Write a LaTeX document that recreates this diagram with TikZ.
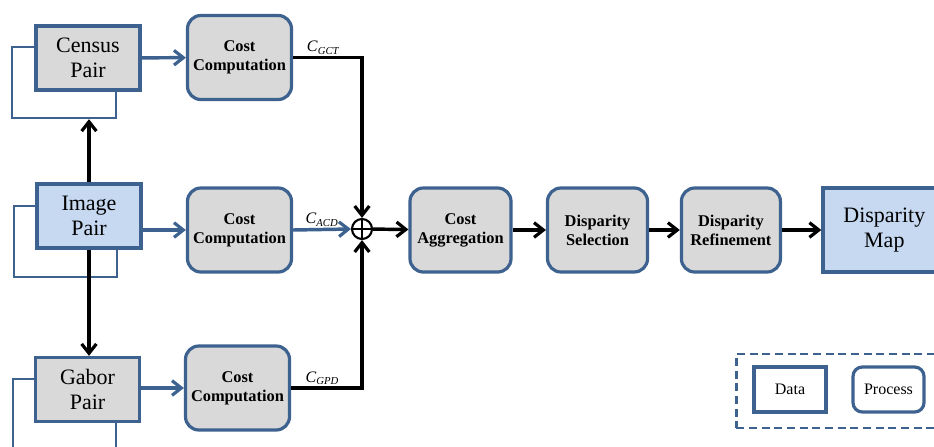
\documentclass[tikz,border=0pt]{standalone}
\usepackage{fontspec}
\setmainfont{Liberation Serif}
\usetikzlibrary{positioning,arrows.meta}
\definecolor{flowblue}{RGB}{62,98,143}
\definecolor{flowgray}{RGB}{217,217,217}
\definecolor{flowlight}{RGB}{198,217,241}
\tikzset{
  databox/.style={rectangle, draw=flowblue, line width=2.5pt, fill=flowgray,
    minimum width=78pt, minimum height=48pt, inner sep=0pt, align=center,
    font=\fontsize{16.5}{19}\selectfont},
  backframe/.style={rectangle, draw=flowblue, line width=1.8pt, inner sep=0pt},
  procbox/.style={rectangle, rounded corners=10pt, draw=flowblue, line width=2.4pt,
    fill=flowgray, minimum width=78pt, minimum height=63pt, inner sep=0pt,
    align=center, font=\fontsize{12.3}{14.3}\selectfont\bfseries},
  bluearrow/.style={-{Straight Barb[length=7pt,width=11pt,line width=2.4pt]}, flowblue, line width=2.6pt},
  blackarrow/.style={-{Straight Barb[length=7pt,width=11pt,line width=2.4pt]}, black, line width=2.6pt},
  costlabel/.style={font=\fontsize{12}{14}\selectfont, inner sep=1pt, text=black}
}
\newcommand{\costsym}[1]{\textit{C}\textsubscript{\textit{#1}}}

\begin{document}
\begin{tikzpicture}[x=0.75pt, y=-0.75pt]
  \clip (0,0) rectangle (934,446);
  % input pairs
  \node[backframe, minimum width=78pt, minimum height=53.25pt] (censusback) at (64,82.5) {};
  \node[databox] (census) at (88,58) {Census\\Pair};
  \node[backframe, minimum width=77.25pt, minimum height=53.25pt] (imageback) at (65.5,241.5) {};
  \node[databox, fill=flowlight] (image) at (89,216) {Image\\Pair};
  \node[backframe, minimum width=77.25pt, minimum height=60pt] (gaborback) at (64.5,419) {};
  \node[databox] (gabor) at (87.5,389.5) {Gabor\\Pair};
  % cost computation
  \node[procbox] (cost1) at (239.5,57.5) {Cost\\Computation};
  \node[procbox] (cost2) at (239.5,230) {Cost\\Computation};
  \node[procbox] (cost3) at (237.5,388) {Cost\\Computation};
  \node[circle, draw, line width=1.6pt, minimum size=15pt, inner sep=0pt] (plus) at (362,229) {};
  \draw[line width=1.6pt] (plus.north) -- (plus.south) (plus.west) -- (plus.east);
  % pipeline
  \node[procbox, minimum width=75.75pt] (agg) at (460.5,230) {Cost\\Aggregation};
  \node[procbox, minimum width=75pt, right=25pt of agg] (sel) {Disparity\\Selection};
  \node[procbox, minimum width=74.25pt, right=23pt of sel] (refine) {Disparity\\Refinement};
  \node[databox, fill=flowlight, minimum width=92pt, minimum height=63pt,
    right=29.5pt of refine] (map) {Disparity\\Map};
  % legend
  \node[rectangle, draw=flowblue, dashed, dash pattern=on 6pt off 3.5pt, line width=2pt,
    minimum width=175pt, minimum height=55.5pt] (legend) at (853,391) {};
  \node[rectangle, draw=flowblue, line width=2.4pt, minimum width=54pt, minimum height=33.75pt,
    font=\fontsize{12}{14}\selectfont] (legdata) at (790,389.5) {Data};
  \node[rectangle, rounded corners=7pt, draw=flowblue, line width=2.4pt, minimum width=53.25pt,
    minimum height=33.75pt, font=\fontsize{12}{14}\selectfont] (legproc) at (888.5,389.5) {Process};
  % connectors
  \draw[bluearrow] (census) -- (cost1);
  \draw[bluearrow] (image.east |- cost2.west) -- (cost2.west);
  \draw[bluearrow] (gabor.east |- cost3.west) -- (cost3.west);
  \draw[blackarrow] (image.north) -- (image.north |- censusback.south);
  \draw[blackarrow] (image.south) -- (image.south |- gabor.north);
  \draw[blackarrow] (cost1.east) -| node[costlabel, pos=0.22, above] {\costsym{GCT}} (plus.north);
  \draw[bluearrow] (cost2.east) -- node[costlabel, above] {\costsym{ACD}} (plus.west);
  \draw[blackarrow] (cost3.east) -| node[costlabel, pos=0.22, above] {\costsym{GPD}} (plus.south);
  \draw[blackarrow] (plus) -- (agg);
  \draw[blackarrow] (agg) -- (sel);
  \draw[blackarrow] (sel) -- (refine);
  \draw[blackarrow] (refine) -- (map);
\end{tikzpicture}
\end{document}
